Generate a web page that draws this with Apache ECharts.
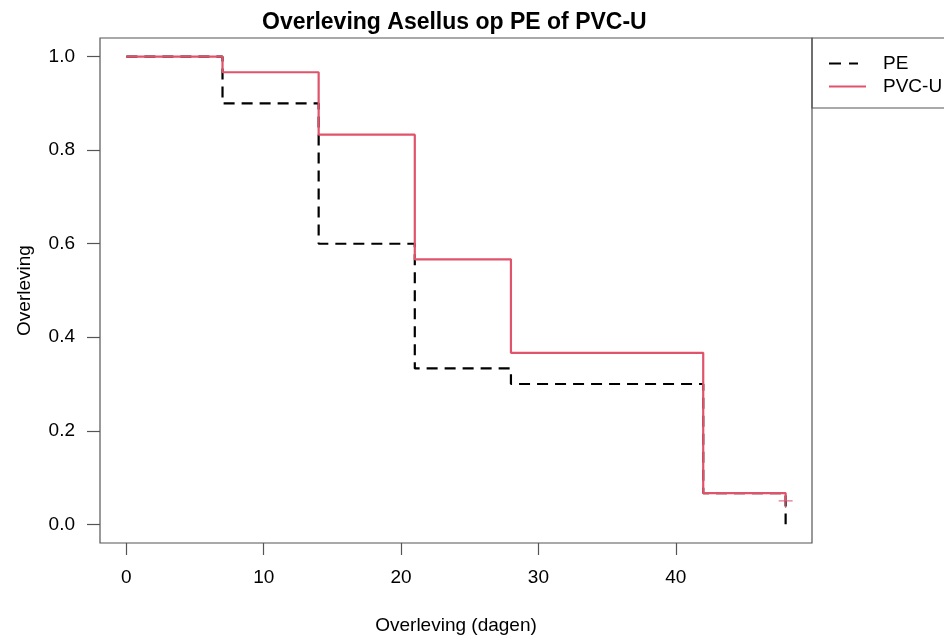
<!DOCTYPE html>
<html>
<head>
<meta charset="utf-8">
<script src="https://cdn.jsdelivr.net/npm/echarts@6/dist/echarts.min.js"></script>
<style>
  html, body { margin: 0; padding: 0; background: #fff; }
  #chart { width: 944px; height: 637px; }
</style>
</head>
<body>
<div id="chart"></div>
<script>
// Kaplan-Meier steps
const peTimes = [0, 7, 14, 21, 28, 42, 48]
const peSurv = [1, 0.9, 0.6, 0.3333, 0.3, 0.0667, 0]
const pvcTimes = [0, 7, 14, 21, 28, 42, 48]
const pvcSurv = [1, 0.9667, 0.8333, 0.5667, 0.3667, 0.0667, 0.05]
const pvcCensorTimes = [48]
const pvcCensorSurv = [0.05]

const xTicks = [0, 10, 20, 30, 40]
const yTicks = [0, 0.2, 0.4, 0.6, 0.8, 1.0]

const zip = (a, b) => a.map((v, i) => [v, b[i]])

const FONT = 'Liberation Sans, Arial, sans-serif'
const RED = '#DF536B'
const FRAME = '#555'
const TXT = 19

const chart = echarts.init(document.getElementById('chart'), null, { renderer: 'canvas' })

chart.setOption({
  animation: false,
  backgroundColor: '#fff',
  title: {
    text: 'Overleving Asellus op PE of PVC-U',
    left: 257,
    top: 6,
    textStyle: { fontFamily: FONT, fontSize: 23, fontWeight: 'bold', color: '#000' }
  },
  grid: {
    left: 100, right: 132, top: 38, bottom: 94,
    outerBoundsMode: 'none',
    containLabel: false,
    show: true, borderColor: FRAME, borderWidth: 1.2, backgroundColor: 'transparent'
  },
  legend: {
    orient: 'vertical',
    left: 824,
    top: 49,
    itemWidth: 37,
    itemHeight: 2,
    itemGap: 4,
    textStyle: { fontFamily: FONT, fontSize: TXT, color: '#000', padding: [0, 0, 0, 12] },
    data: [
      // dashed icon; the empty sub-path keeps the icon box 37 wide
      { name: 'PE', icon: 'path://M0,0H12V2H0Z M20,0H29V2H20Z M37,0L37,2' },
      { name: 'PVC-U', icon: 'path://M0,0H37V2H0Z' }
    ]
  },
  graphic: [{
    type: 'rect',
    shape: { x: 812, y: 38, width: 200, height: 70 },
    style: { fill: 'none', stroke: FRAME, lineWidth: 1.2 },
    silent: true
  }],
  xAxis: {
    type: 'value',
    min: -1.92,
    max: 49.92,
    name: 'Overleving (dagen)',
    nameLocation: 'middle',
    nameGap: 73,
    nameTextStyle: { fontFamily: FONT, fontSize: TXT, color: '#000' },
    axisLine: { show: false, onZero: false },
    axisTick: { show: true, length: 12, customValues: xTicks, lineStyle: { color: FRAME, width: 1.2 } },
    axisLabel: { customValues: xTicks, margin: 25, fontFamily: FONT, fontSize: TXT, color: '#000' },
    splitLine: { show: false }
  },
  yAxis: {
    type: 'value',
    min: -0.04,
    max: 1.04,
    name: 'Overleving',
    nameLocation: 'middle',
    nameGap: 66,
    nameTextStyle: { fontFamily: FONT, fontSize: TXT, color: '#000' },
    axisLine: { show: false, onZero: false },
    axisTick: { show: true, length: 13, customValues: yTicks, lineStyle: { color: FRAME, width: 1.2 } },
    axisLabel: {
      customValues: yTicks, margin: 25, fontFamily: FONT, fontSize: TXT, color: '#000',
      formatter: v => v.toFixed(1)
    },
    splitLine: { show: false }
  },
  series: [
    {
      name: 'PE',
      type: 'line',
      step: 'end',
      symbol: 'none',
      data: zip(peTimes, peSurv),
      lineStyle: { color: '#000', width: 2.2, type: [11, 7] },
      itemStyle: { color: '#000' },
      z: 2
    },
    {
      name: 'PVC-U',
      type: 'line',
      step: 'end',
      symbol: 'none',
      data: zip(pvcTimes, pvcSurv),
      lineStyle: { color: RED, width: 2.2 },
      itemStyle: { color: RED },
      z: 3
    },
    {
      name: 'PVC-U',
      type: 'scatter',
      data: zip(pvcCensorTimes, pvcCensorSurv),
      symbol: 'path://M-1,-0.09H1V0.09H-1Z M-0.09,-1H0.09V1H-0.09Z',
      symbolSize: 14,
      itemStyle: { color: RED },
      z: 4
    }
  ]
})
</script>
</body>
</html>
